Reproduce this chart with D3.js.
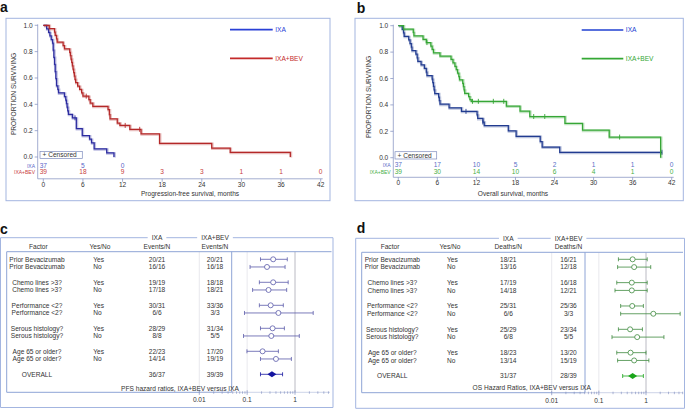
<!DOCTYPE html>
<html>
<head>
<meta charset="utf-8">
<script src="https://cdn.jsdelivr.net/npm/d3@7"></script>
<style>
  body { margin: 0; background: #fff; }
  svg { display: block; font-family: "Liberation Sans", Arial, Helvetica, sans-serif; }
</style>
</head>
<body>
<svg id="fig" width="685" height="409"></svg>
<script>
// ---- data ----
const months = [0, 6, 12, 18, 24, 30, 36, 42];
const yTicks = [0, 0.2, 0.4, 0.6, 0.8, 1.0];

// Kaplan-Meier steps [month, proportion surviving]
const pfsIxa = [[0,1],[0.5,0.973],[0.8,0.946],[1.0,0.919],[1.2,0.892],[1.4,0.865],[1.5,0.811],[1.6,0.757],
  [1.7,0.703],[1.8,0.649],[1.9,0.595],[2.0,0.541],[2.2,0.514],[2.3,0.486],[3.2,0.459],[3.4,0.432],[3.5,0.405],
  [3.6,0.378],[3.7,0.351],[3.8,0.324],[4.4,0.297],[5.0,0.216],[5.9,0.162],[7.0,0.135],[7.3,0.108],[7.7,0.062],
  [9.6,0.031],[10.7,0]];
const pfsBev = [[0,1],[0.9,0.974],[1.7,0.949],[1.8,0.923],[2.0,0.897],[2.1,0.872],[3.0,0.846],[3.2,0.821],
  [4.0,0.795],[4.1,0.769],[4.2,0.744],[4.3,0.718],[4.4,0.692],[4.5,0.667],[4.6,0.641],[4.7,0.615],[4.8,0.590],
  [4.9,0.564],[5.2,0.538],[5.5,0.513],[5.8,0.487],[6.0,0.462],[6.9,0.436],[7.1,0.410],[7.5,0.385],[9.8,0.359],
  [10.0,0.321],[10.1,0.29],[11.2,0.258],[11.6,0.24],[13.1,0.21],[14.8,0.175],[17.6,0.104],[25.5,0.067],
  [28.3,0.036],[37.4,0]];
const osIxa = [[0,1],[0.6,0.973],[0.8,0.946],[0.9,0.919],[1.6,0.892],[1.8,0.865],[2.0,0.838],[2.1,0.811],
  [2.7,0.784],[2.9,0.757],[3.0,0.730],[3.5,0.703],[4.0,0.676],[4.3,0.649],[4.4,0.622],[5.2,0.595],[5.3,0.568],
  [5.4,0.541],[5.5,0.514],[5.6,0.486],[6.2,0.459],[6.3,0.432],[6.4,0.405],[7.8,0.378],[9.7,0.351],[12.1,0.324],
  [12.2,0.297],[13.0,0.270],[13.2,0.243],[16.9,0.203],[18.1,0.162],[21.8,0.122],[22.1,0.081],[24.8,0.041],
  [40.5,0.041]];
const osBev = [[0,1],[0.8,0.974],[2.3,0.949],[2.4,0.923],[3.8,0.897],[4.3,0.872],[5.0,0.846],[5.2,0.821],
  [5.4,0.795],[6.4,0.769],[8.1,0.744],[8.4,0.718],[8.7,0.692],[8.9,0.667],[9.1,0.641],[9.3,0.615],[9.4,0.590],
  [9.9,0.564],[10.0,0.538],[10.1,0.513],[10.2,0.487],[10.8,0.462],[11.0,0.44],[11.2,0.427],[16.6,0.391],
  [18.7,0.352],[20.2,0.312],[25.6,0.260],[28.3,0.208],[32.4,0.156],[40.3,0]];

// censoring times (months)
const pfsIxaCens = [4.8];
const pfsBevCens = [6.5, 12.4, 14.6];
const osIxaCens = [10.4, 13.0, 40.5];
const osBevCens = [4.4, 11.4, 12.3, 14.6, 16.2, 20.8, 22.5, 34.0];

// numbers at risk at each month tick
const pfsRiskIxa = [37, 5, 0];
const pfsRiskBev = [39, 18, 9, 3, 3, 1, 1, 0];
const osRiskIxa = [37, 17, 10, 5, 2, 1, 1, 0];
const osRiskBev = [39, 30, 14, 10, 6, 4, 1, 0];

// forest plots
const factors = ['Prior Bevacizumab', 'Prior Bevacizumab', 'Chemo lines >3?', 'Chemo lines >3?',
  'Performance <2?', 'Performance <2?', 'Serous histology?', 'Serous histology?',
  'Age 65 or older?', 'Age 65 or older?', 'OVERALL'];
const yesNo = ['Yes', 'No', 'Yes', 'No', 'Yes', 'No', 'Yes', 'No', 'Yes', 'No', ''];
const factorGroup = [0, 0, 1, 1, 2, 2, 3, 3, 4, 4, 5];

const pfsEventsIxa = ['20/21', '16/16', '19/19', '17/18', '30/31', '6/6', '28/29', '8/8', '22/23', '14/14', '36/37'];
const pfsEventsBev = ['20/21', '16/18', '18/18', '18/21', '33/36', '3/3', '31/34', '5/5', '17/20', '19/19', '39/39'];
const pfsHr = [0.35, 0.26, 0.35, 0.28, 0.31, 0.45, 0.34, 0.32, 0.21, 0.40, 0.33];
const pfsLo = [0.19, 0.115, 0.18, 0.13, 0.18, 0.088, 0.19, 0.084, 0.099, 0.19, 0.19];
const pfsHi = [0.69, 0.62, 0.72, 0.67, 0.57, 2.4, 0.60, 1.23, 0.45, 0.84, 0.55];

const osDeathsIxa = ['18/21', '13/16', '17/19', '14/18', '25/31', '6/6', '25/29', '6/8', '18/23', '13/14', '31/37'];
const osDeathsBev = ['16/21', '12/18', '16/18', '12/21', '25/36', '3/3', '23/34', '5/5', '13/20', '15/19', '28/39'];
const osHr = [0.52, 0.56, 0.50, 0.50, 0.51, 1.43, 0.46, 0.65, 0.47, 0.56, 0.52];
const osLo = [0.26, 0.25, 0.24, 0.22, 0.29, 0.29, 0.26, 0.19, 0.24, 0.25, 0.32];
const osHi = [1.06, 1.26, 1.06, 1.06, 0.88, 5.3, 0.84, 2.4, 1.0, 1.15, 0.88];

const hrMajor = [0.01, 0.1, 1];

// ---- drawing ----
const svg = d3.select('#fig');
const frameColor = '#a3b5e0';
const axisColor = '#7d8bbd';
const textColor = '#333';
const fs = 6.6;

function survAt(steps, t) {
  let s = 1;
  steps.forEach(([tt, ss]) => { if (tt <= t) s = ss; });
  return s;
}

function drawKM(o) {
  const g = svg.append('g');
  const x = d3.scaleLinear().domain([0, 42]).range([o.x0, o.x1]);
  const y = d3.scaleLinear().domain([0, 1]).range([o.y0, o.y1]);
  const [fx0, fy0, fx1, fy1] = o.frame;

  g.append('rect').attr('x', fx0).attr('y', fy0).attr('width', fx1 - fx0).attr('height', fy1 - fy0)
    .attr('fill', 'none').attr('stroke', frameColor).attr('stroke-width', 1);

  // y axis
  g.append('line').attr('x1', o.yAxisX).attr('x2', o.yAxisX).attr('y1', y(1) - 1).attr('y2', o.axisY)
    .attr('stroke', axisColor).attr('stroke-width', 0.7);
  const yt = g.selectAll('.yt').data(yTicks).enter().append('g')
    .attr('transform', d => `translate(0,${y(d)})`);
  yt.append('line').attr('x1', o.yAxisX - 3).attr('x2', o.yAxisX).attr('stroke', axisColor).attr('stroke-width', 0.7);
  yt.append('text').attr('x', o.yAxisX - 5).attr('dy', '0.35em').attr('text-anchor', 'end')
    .attr('font-size', fs).attr('fill', textColor).text(d3.format('.1f'));
  g.append('text').attr('transform', `translate(${o.yTitleX},${o.yTitleY}) rotate(-90)`)
    .attr('text-anchor', 'middle').attr('font-size', fs).attr('fill', textColor).text('PROPORTION SURVIVING');

  // x axis
  g.append('line').attr('x1', o.yAxisX).attr('x2', x(42) + 2).attr('y1', o.axisY).attr('y2', o.axisY)
    .attr('stroke', axisColor).attr('stroke-width', 0.7);
  const xt = g.selectAll('.xt').data(months).enter().append('g')
    .attr('transform', d => `translate(${x(d)},0)`);
  xt.append('line').attr('y1', o.axisY).attr('y2', o.axisY + 3).attr('stroke', axisColor).attr('stroke-width', 0.7);
  xt.append('text').attr('y', o.axisY + 7.8).attr('text-anchor', 'middle')
    .attr('font-size', fs).attr('fill', textColor).text(d => d);
  g.append('text').attr('x', o.xTitleX).attr('y', o.xTitleY).attr('text-anchor', 'middle')
    .attr('font-size', fs).attr('fill', textColor).text(o.xTitle);

  // curves
  const line = d3.line().x(d => x(d[0])).y(d => y(d[1])).curve(d3.curveStepAfter);
  o.series.forEach(s => {
    g.append('path').attr('d', line(s.steps)).attr('fill', 'none').attr('stroke', s.color)
      .attr('stroke-opacity', 0.3).attr('stroke-width', 2.6).attr('transform', 'translate(0.6,0.6)');
    g.append('path').attr('d', line(s.steps)).attr('fill', 'none').attr('stroke', s.color)
      .attr('stroke-width', 1.25);
    g.selectAll(null).data(s.cens).enter().append('line')
      .attr('x1', d => x(d)).attr('x2', d => x(d))
      .attr('y1', d => y(survAt(s.steps, d)) - 2.5).attr('y2', d => y(survAt(s.steps, d)) + 2.5)
      .attr('stroke', s.color).attr('stroke-width', 0.9);

    // legend
    g.append('line').attr('x1', o.legX0).attr('x2', o.legX1).attr('y1', s.legY).attr('y2', s.legY)
      .attr('stroke', s.legColor).attr('stroke-width', 1.7);
    g.append('text').attr('x', o.legX1 + 2.5).attr('y', s.legY).attr('dy', '0.35em')
      .attr('font-size', fs).attr('fill', s.legColor).text(s.name);

    // numbers at risk
    g.append('text').attr('x', o.riskLabelX).attr('y', s.riskY).attr('text-anchor', 'end')
      .attr('font-size', 5).attr('fill', s.riskColor).text(s.name);
    g.selectAll(null).data(s.risk).enter().append('text')
      .attr('x', (d, i) => x(months[i])).attr('y', s.riskY).attr('text-anchor', 'middle')
      .attr('font-size', fs).attr('fill', s.riskColor).text(d => d);
  });

  // censored key
  g.append('rect').attr('x', o.cens[0]).attr('y', o.cens[1]).attr('width', o.cens[2]).attr('height', o.cens[3])
    .attr('fill', '#fff').attr('stroke', axisColor).attr('stroke-width', 0.7);
  g.append('text').attr('x', o.cens[0] + 2.5).attr('y', o.cens[1] + o.cens[3] / 2).attr('dy', '0.35em')
    .attr('font-size', fs).attr('fill', textColor).text('+ Censored');

  g.append('text').attr('x', o.letter[0]).attr('y', o.letter[1]).attr('font-size', 14)
    .attr('font-weight', 'bold').attr('fill', '#111').text(o.letterText);
}

function drawForest(o) {
  const g = svg.append('g');
  const x = d3.scaleLog().domain([0.01, 1]).range([o.ax0, o.ax1]);
  const y = d3.scaleLinear().domain([0, 15]).range([o.rowTop, o.rowBot]);
  const [fx0, fy0, fx1, fy1] = o.frame;
  const ib = o.inner;

  // header labels sitting on the frame's top border
  const heads = [{ t: 'IXA', cx: o.colIxa }, { t: 'IXA+BEV', cx: o.colBev }];
  let cut = [];
  heads.forEach(h => {
    const tx = g.append('text').attr('x', h.cx).attr('y', fy0).attr('dy', '0.35em').attr('text-anchor', 'middle')
      .attr('font-size', fs).attr('fill', textColor).text(h.t);
    const w = tx.node().getComputedTextLength();
    cut.push([h.cx - w / 2 - 4, h.cx + w / 2 + 4]);
  });
  let sx = fx0;
  cut.forEach(c => {
    g.append('line').attr('x1', sx).attr('x2', c[0]).attr('y1', fy0).attr('y2', fy0).attr('stroke', frameColor);
    sx = c[1];
  });
  g.append('line').attr('x1', sx).attr('x2', fx1).attr('y1', fy0).attr('y2', fy0).attr('stroke', frameColor);
  g.append('path').attr('d', `M${fx0},${fy0}V${fy1}H${fx1}V${fy0}`).attr('fill', 'none').attr('stroke', frameColor);

  // column headers
  [['Factor', o.colFactorHead], ['Yes/No', o.colYesHead], [o.countHead, o.colIxa], [o.countHead, o.colBev]]
    .forEach(([t, cx]) => g.append('text').attr('x', cx).attr('y', o.headY).attr('text-anchor', 'middle')
      .attr('font-size', fs).attr('fill', textColor).text(t));

  // gridlines
  hrMajor.forEach(v => g.append('line').attr('x1', x(v)).attr('x2', x(v)).attr('y1', ib.y0).attr('y2', ib.y1)
    .attr('stroke', v === 1 ? '#a8a8b4' : '#e2e2e8').attr('stroke-width', 0.8));

  // inner box
  g.append('path').attr('d', `M${ib.xr},${ib.y0}H${ib.x0}V${ib.y1}H${ib.vline}V${ib.y0}`)
    .attr('fill', 'none').attr('stroke', '#8ea4d6').attr('stroke-width', 1);

  // log axis
  const axEnd = o.axEnd;
  const hrMax = x.invert(axEnd);
  g.append('line').attr('x1', x(0.01)).attr('x2', axEnd).attr('y1', ib.y1).attr('y2', ib.y1)
    .attr('stroke', '#b8c2de').attr('stroke-width', 0.7);
  const minors = [];
  [0.01, 0.1, 1].forEach(dec => d3.range(2, 10).forEach(k => { if (dec * k <= hrMax) minors.push(dec * k); }));
  g.selectAll(null).data(minors).enter().append('line')
    .attr('x1', d => x(d)).attr('x2', d => x(d)).attr('y1', ib.y1 - 1).attr('y2', ib.y1 + 1.5)
    .attr('stroke', '#7d8bbd').attr('stroke-width', 0.6);
  g.selectAll(null).data(hrMajor).enter().append('line')
    .attr('x1', d => x(d)).attr('x2', d => x(d)).attr('y1', ib.y1 - 2).attr('y2', ib.y1 + 2.5)
    .attr('stroke', '#7d8bbd').attr('stroke-width', 0.7);
  g.selectAll(null).data(hrMajor).enter().append('text')
    .attr('x', d => x(d)).attr('y', o.tickY).attr('text-anchor', 'middle')
    .attr('font-size', fs).attr('fill', textColor).text(d => d);
  g.append('text').attr('x', o.title[0]).attr('y', o.title[1]).attr('text-anchor', 'middle')
    .attr('font-size', fs).attr('fill', textColor).text(o.titleText);

  // rows
  factors.forEach((f, i) => {
    const slot = factorGroup[i] * 3 + (yesNo[i] === 'No' ? 1 : 0);
    const yy = y(slot);
    g.append('text').attr('x', o.colFactor).attr('y', yy).attr('dy', '0.35em').attr('text-anchor', 'middle')
      .attr('font-size', fs).attr('fill', textColor).text(f);
    g.append('text').attr('x', o.colYes).attr('y', yy).attr('dy', '0.35em')
      .attr('font-size', fs).attr('fill', textColor).text(yesNo[i]);
    g.append('text').attr('x', o.colIxa).attr('y', yy).attr('dy', '0.35em').attr('text-anchor', 'middle')
      .attr('font-size', fs).attr('fill', textColor).text(o.nIxa[i]);
    g.append('text').attr('x', o.colBev).attr('y', yy).attr('dy', '0.35em').attr('text-anchor', 'middle')
      .attr('font-size', fs).attr('fill', textColor).text(o.nBev[i]);

    const overall = yesNo[i] === '';
    const col = overall ? o.overallColor : o.ciColor;
    const x1 = x(o.lo[i]);
    const x2 = Math.min(x(o.hi[i]), axEnd + 4);
    g.append('line').attr('x1', x1).attr('x2', x2).attr('y1', yy).attr('y2', yy)
      .attr('stroke', col).attr('stroke-width', 0.8);
    [x1, x2].forEach(cx => g.append('line').attr('x1', cx).attr('x2', cx).attr('y1', yy - 2).attr('y2', yy + 2)
      .attr('stroke', col).attr('stroke-width', 0.8));
    const px = x(o.hr[i]);
    if (overall) {
      g.append('path').attr('d', `M${px - 4.5},${yy}L${px},${yy - 3}L${px + 4.5},${yy}L${px},${yy + 3}Z`)
        .attr('fill', col);
    } else {
      g.append('circle').attr('cx', px).attr('cy', yy).attr('r', 2.5)
        .attr('fill', '#fff').attr('stroke', col).attr('stroke-width', 0.8);
    }
  });

  g.append('text').attr('x', o.letter[0]).attr('y', o.letter[1]).attr('font-size', 14)
    .attr('font-weight', 'bold').attr('fill', '#111').text(o.letterText);
}

drawKM({
  x0: 43.3, x1: 320.7, y0: 157, y1: 25.3, yAxisX: 37.7, axisY: 178.8,
  frame: [6, 18.3, 330, 200.7],
  yTitleX: 16, yTitleY: 94, xTitleX: 190, xTitleY: 195.5,
  xTitle: 'Progression-free survival, months',
  legX0: 230, legX1: 272.7, riskLabelX: 35,
  cens: [40, 151.5, 42.3, 7],
  letter: [0, 11.7], letterText: 'a',
  series: [
    { name: 'IXA', steps: pfsIxa, cens: pfsIxaCens, risk: pfsRiskIxa, color: '#2c2ca0',
      legColor: '#2a40d6', riskColor: '#5a64c8', legY: 29.7, riskY: 167.5 },
    { name: 'IXA+BEV', steps: pfsBev, cens: pfsBevCens, risk: pfsRiskBev, color: '#b42828',
      legColor: '#c42a2a', riskColor: '#c84040', legY: 58.3, riskY: 174 }
  ]
});

drawKM({
  x0: 398.3, x1: 671.7, y0: 157.7, y1: 25.7, yAxisX: 393.3, axisY: 177.3,
  frame: [355, 18.3, 683.3, 200.7],
  yTitleX: 371, yTitleY: 97, xTitleX: 513, xTitleY: 195.7,
  xTitle: 'Overall survival, months',
  legX0: 581.7, legX1: 623.3, riskLabelX: 390.7,
  cens: [395, 151.7, 41.7, 7.3],
  letter: [356.7, 12.7], letterText: 'b',
  series: [
    { name: 'IXA', steps: osIxa, cens: osIxaCens, risk: osRiskIxa, color: '#213b90',
      legColor: '#2040d2', riskColor: '#5a70c8', legY: 30, riskY: 167.3 },
    { name: 'IXA+BEV', steps: osBev, cens: osBevCens, risk: osRiskBev, color: '#36a636',
      legColor: '#34a834', riskColor: '#48b048', legY: 58.7, riskY: 173.5 }
  ]
});

drawForest({
  frame: [0.5, 237.7, 333, 407.5],
  inner: { x0: 6.7, y0: 251.7, y1: 392.3, vline: 231.7, xr: 331.5 },
  colFactor: 37, colFactorHead: 38.3, colYes: 93.3, colYesHead: 100, colIxa: 157, colBev: 215,
  headY: 249, countHead: 'Events/N',
  ax0: 199.3, ax1: 295, axEnd: 330, tickY: 402.3,
  rowTop: 259.3, rowBot: 374.3,
  title: [180, 390.5], titleText: 'PFS hazard ratios, IXA+BEV versus IXA',
  nIxa: pfsEventsIxa, nBev: pfsEventsBev, hr: pfsHr, lo: pfsLo, hi: pfsHi,
  ciColor: '#5a5aaa', overallColor: '#1414a0',
  letter: [0, 234.3], letterText: 'c'
});

drawForest({
  frame: [355.7, 238.3, 684.5, 408.3],
  inner: { x0: 361.7, y0: 252.3, y1: 392.7, vline: 585, xr: 683 },
  colFactor: 392.3, colFactorHead: 390, colYes: 447, colYesHead: 450, colIxa: 508.3, colBev: 568.5,
  headY: 249.3, countHead: 'Deaths/N',
  ax0: 551.7, ax1: 646, axEnd: 683, tickY: 403,
  rowTop: 259.3, rowBot: 376,
  title: [531.7, 390], titleText: 'OS Hazard Ratios, IXA+BEV versus IXA',
  nIxa: osDeathsIxa, nBev: osDeathsBev, hr: osHr, lo: osLo, hi: osHi,
  ciColor: '#3f8a3f', overallColor: '#1aa51a',
  letter: [356.7, 233.3], letterText: 'd'
});
</script>
</body>
</html>
